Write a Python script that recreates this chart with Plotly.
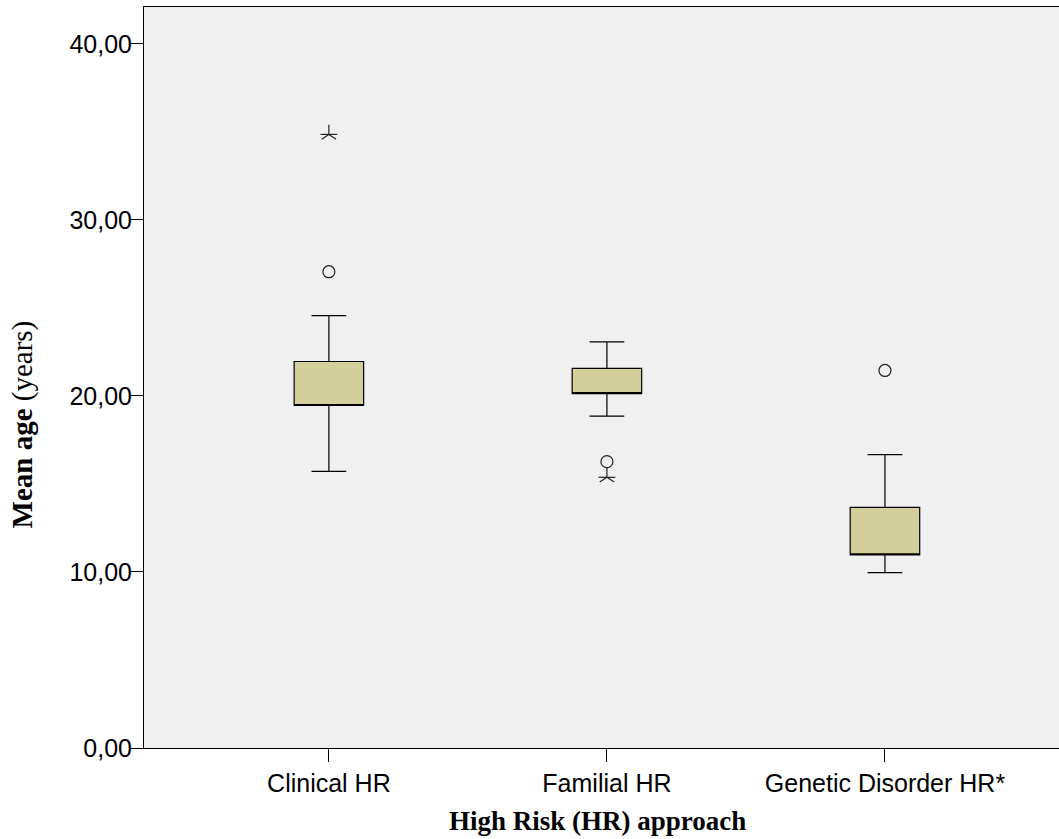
import plotly.graph_objects as go

categories = ["Clinical HR", "Familial HR", "Genetic Disorder HR*"]
q1 = [19.46, 20.13, 10.97]
median = [19.46, 20.13, 10.97]
q3 = [21.96, 21.57, 13.67]
lower = [15.72, 18.86, 9.96]
upper = [24.56, 23.07, 16.67]

circle_x = ["Clinical HR", "Familial HR", "Genetic Disorder HR*"]
circle_y = [27.06, 16.27, 21.45]
star_x = ["Clinical HR", "Familial HR"]
star_y = [34.86, 15.38]

yticks = [0, 10, 20, 30, 40]

fig = go.Figure()
fig.add_trace(go.Box(
    x=categories, q1=q1, median=median, q3=q3,
    lowerfence=lower, upperfence=upper,
    boxpoints=False, width=0.25, whiskerwidth=0.5,
    fillcolor="#d3cf9b", line=dict(color="#000000", width=1.2),
    showlegend=False, hoverinfo="skip",
))
fig.add_trace(go.Scatter(
    x=circle_x, y=circle_y, mode="markers",
    marker=dict(symbol="circle-open", size=12, color="#222222", line=dict(width=1.2)),
    showlegend=False, hoverinfo="skip",
))
# star: stem up + two arms down, plus a horizontal bar -> five-armed SPSS star
fig.add_trace(go.Scatter(
    x=star_x, y=star_y, mode="markers",
    marker=dict(symbol="y-up-open", size=12, color="#222222", line=dict(width=1.2)),
    showlegend=False, hoverinfo="skip",
))
fig.add_trace(go.Scatter(
    x=star_x, y=star_y, mode="markers",
    marker=dict(symbol="line-ew-open", size=12, color="#222222", line=dict(width=1.2)),
    showlegend=False, hoverinfo="skip",
))

fig.update_layout(
    width=1059, height=839,
    margin=dict(l=144, r=0, t=7, b=91),
    paper_bgcolor="white", plot_bgcolor="#f0f0f0",
    separators=",.",
    font=dict(family="Liberation Sans, Arial", size=25, color="#000000"),
    xaxis=dict(
        type="category", range=[-0.665, 2.626],
        showline=True, linecolor="#000000", linewidth=1, mirror=True,
        ticks="outside", ticklen=13, tickcolor="#000000",
        showgrid=False, zeroline=False,
        tickfont=dict(family="Liberation Sans, Arial", size=25),
    ),
    yaxis=dict(
        range=[0, 42.1], tickvals=yticks, tickformat=".2f",
        showline=True, linecolor="#000000", linewidth=1,
        ticks="outside", ticklen=12, tickcolor="#000000",
        showgrid=False, zeroline=False,
        ticklabelstandoff=-6,
        tickfont=dict(family="Liberation Sans, Arial", size=25),
    ),
    annotations=[
        dict(text="<b>High Risk (HR) approach</b>", xref="paper", yref="paper",
             x=0.496, y=-0.099, xanchor="center", yanchor="middle", showarrow=False,
             font=dict(family="Liberation Serif, Times New Roman", size=27)),
        dict(text="<b>Mean age</b> (years)", xref="paper", yref="paper",
             x=-0.133, y=0.437, xanchor="center", yanchor="middle", showarrow=False,
             textangle=-90,
             font=dict(family="Liberation Serif, Times New Roman", size=29)),
    ],
)

fig.write_html("out.html", config={"displayModeBar": False},
               post_script="document.body.style.margin='0';")
